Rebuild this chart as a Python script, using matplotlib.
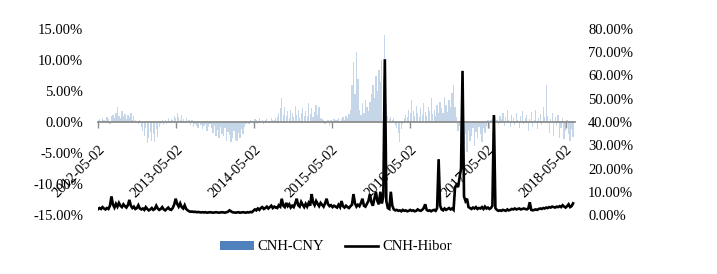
import matplotlib
matplotlib.use("Agg")
import matplotlib.pyplot as plt
import matplotlib.dates as mdates
from matplotlib.ticker import FuncFormatter, FixedLocator
from matplotlib.patches import Patch
from matplotlib.lines import Line2D
import pandas as pd

# ---- data (weekly readings, %) ----
start_date = "2012-05-02"
cnh_cny = [
    0.3, 0.5, -0.2, 0.6, 0.4, 0.2, 0.8, 0.5, -0.3, 0.9,
    1.2, 0.7, 1.5, 2.4, 1.0, 0.6, 1.8, 0.9, 1.3, 0.5,
    1.1, 0.8, 1.4, 0.4, 0.9, 0.3, 0.2, -0.3, 0.4, -0.8,
    -1.5, -2.2, -1.0, -3.4, -2.5, -1.6, -3.0, -2.0, -3.2, -1.2,
    -2.4, -0.8, -0.4, 0.3, -0.5, 0.4, -0.3, 0.6, 0.2, 0.5,
    0.3, 1.0, 0.6, 1.4, 0.8, 0.4, 1.1, 0.5, 0.2, 0.7,
    -0.2, 0.4, -0.5, 0.3, -0.8, -0.3, -0.6, -1.0, 0.2, -0.5,
    -1.2, -0.7, -0.3, -1.5, -0.8, -0.4, -1.0, -1.8, -0.6, -2.2,
    -1.3, -2.6, -0.8, -1.9, -2.3, -1.0, -3.0, -1.6, -2.1, -3.2,
    -2.5, -1.4, -2.9, -3.1, -1.8, -2.6, -1.2, -2.0, -0.8, -0.4,
    0.2, -0.3, 0.4, 0.1, -0.2, 0.5, 0.3, -0.4, 0.6, 0.2,
    0.4, -0.3, 0.3, 0.5, 0.2, -0.2, 0.7, 0.4, 0.3, 0.6,
    0.8, 1.5, 2.2, 3.8, 1.2, 2.5, 1.0, 1.8, 0.7, 2.0,
    1.4, 0.8, 2.6, 1.2, 1.9, 0.6, 1.5, 2.3, 1.0, 1.7,
    0.9, 3.0, 1.3, 2.2, 0.8, 1.6, 2.8, 1.1, 2.4, 0.7,
    0.5, 0.3, -0.4, 0.2, 0.4, -0.6, 0.3, 0.2, 0.5, 0.3,
    0.4, 0.6, 0.2, 0.5, 0.8, 0.4, 1.0, 0.6, 1.3, 2.0,
    6.0, 9.7, 4.5, 11.3, 7.0, 2.0, 1.2, 3.0, 1.5, 3.5,
    2.5, 1.8, 3.2, 4.5, 6.0, 3.8, 7.5, 5.0, 8.4, 6.5,
    10.0, 7.0, 14.0, 3.0, 1.0, 0.5, 0.8, 0.3, 0.6, -0.5,
    -1.0, -1.8, -3.2, -1.2, -0.4, 0.6, 1.2, 0.8, 2.0, 1.4,
    3.5, 1.8, 1.0, 2.6, 1.5, 0.8, 2.2, 1.2, 3.0, 1.6,
    1.0, 2.4, 1.8, 3.8, 1.3, 2.0, 0.9, 2.7, 1.5, 3.2,
    2.2, 1.4, 4.0, 2.8, 1.6, 3.5, 2.4, 4.6, 6.0, 2.5,
    0.8, -1.5, -0.6, -2.8, -1.2, -3.5, -2.0, -4.8, -1.5, -3.0,
    -2.2, -1.0, -3.8, -1.6, -2.6, -0.8, -2.0, -3.2, -1.0, -1.8,
    -0.6, 0.4, -1.2, 0.3, 0.6, -0.5, 0.8, 0.3, -0.4, 1.0,
    0.5, 1.5, -0.6, 0.8, 2.0, 0.4, -0.8, 1.2, 0.6, -0.5,
    1.4, 0.3, -1.0, 0.9, 1.8, -0.4, 0.6, 1.2, -1.5, 0.5,
    1.6, -0.8, 0.4, 2.0, -1.2, 0.7, 1.3, -0.5, 2.4, 0.8,
    6.0, 1.0, -1.8, 0.5, 1.5, -2.2, 0.8, -0.6, 1.2, -2.5,
    -1.0, 0.6, -2.8, -1.5, 0.4, -2.0, -3.0, -1.2, -2.4,
]
cnh_hibor = [
    2.5, 3.0, 2.6, 3.4, 2.8, 2.4, 3.0, 2.6, 4.0, 8.0,
    4.5, 3.2, 4.8, 3.6, 5.2, 4.0, 3.4, 4.6, 3.8, 3.2,
    4.2, 6.5, 4.0, 3.0, 3.6, 2.6, 3.0, 4.2, 2.8, 2.4,
    2.8, 2.2, 3.4, 2.6, 2.0, 2.4, 3.0, 2.2, 2.6, 4.0,
    2.8, 2.2, 2.6, 3.4, 2.4, 2.0, 2.6, 3.2, 2.4, 2.2,
    3.0, 4.5, 7.0, 4.8, 3.6, 5.0, 3.4, 2.8, 4.2, 2.6,
    2.0, 1.6, 1.4, 1.5, 1.3, 1.4, 1.2, 1.3, 1.2, 1.1,
    1.2, 1.1, 1.2, 1.0, 1.1, 1.2, 1.1, 1.0, 1.1, 1.2,
    1.1, 1.0, 1.1, 1.2, 1.1, 1.0, 1.2, 1.4, 2.0, 1.6,
    1.2, 1.1, 1.0, 1.1, 1.2, 1.0, 1.1, 1.2, 1.1, 1.0,
    1.2, 1.1, 1.3, 1.2, 1.8, 2.4, 2.0, 2.8, 2.2, 3.0,
    3.4, 2.6, 3.0, 3.6, 2.8, 3.4, 4.0, 3.0, 3.6, 3.2,
    3.0, 4.2, 3.6, 7.0, 4.0, 3.4, 5.2, 3.8, 4.6, 3.2,
    4.0, 3.4, 5.0, 7.0, 4.2, 3.6, 5.6, 4.4, 3.4, 4.8,
    3.6, 5.2, 4.0, 9.0, 5.4, 4.2, 6.0, 4.8, 3.8, 5.2,
    4.4, 3.6, 5.0, 7.0, 4.6, 3.8, 4.2, 3.4, 4.0, 3.6,
    3.2, 4.4, 3.4, 6.0, 3.8, 3.2, 4.0, 3.4, 3.0, 3.8,
    4.4, 9.0, 5.0, 3.6, 4.4, 3.8, 5.2, 7.0, 4.0, 3.6,
    4.8, 6.0, 9.0, 5.4, 4.0, 7.0, 10.0, 6.0, 4.6, 10.0,
    5.0, 8.0, 67.0, 6.0, 3.0, 2.6, 10.0, 4.0, 2.4, 2.0,
    2.2, 1.8, 2.0, 1.6, 2.2, 1.8, 2.0, 1.6, 1.8, 2.2,
    1.8, 2.0, 1.6, 1.8, 2.4, 2.0, 1.8, 2.2, 3.0, 4.6,
    2.2, 1.8, 2.0, 1.6, 2.0, 2.2, 1.8, 3.0, 24.0, 4.0,
    2.4, 2.0, 2.8, 2.2, 2.6, 3.0, 2.4, 2.8, 2.2, 12.0,
    13.0, 12.0, 16.0, 20.0, 62.0, 8.0, 6.0, 7.0, 3.4, 3.0,
    2.6, 3.2, 2.8, 3.4, 2.6, 3.0, 2.8, 3.4, 2.6, 3.6,
    2.8, 3.2, 2.6, 3.0, 4.0, 43.0, 3.0, 2.2, 1.8, 2.0,
    1.8, 2.2, 2.0, 1.8, 2.4, 2.0, 2.2, 2.6, 2.4, 2.8,
    2.4, 2.6, 2.8, 2.4, 2.6, 2.8, 2.6, 2.4, 2.8, 5.5,
    2.2, 2.0, 2.2, 2.4, 2.2, 2.6, 2.8, 2.6, 3.0, 2.8,
    3.2, 3.0, 3.4, 3.2, 3.6, 3.4, 3.2, 3.6, 3.4, 3.8,
    3.4, 4.2, 3.6, 3.2, 3.8, 4.6, 3.4, 3.8, 5.0,
]
tick_dates = ["2012-05-02", "2013-05-02", "2014-05-02", "2015-05-02",
              "2016-05-02", "2017-05-02", "2018-05-02"]
left_ticks = [-15, -10, -5, 0, 5, 10, 15]
right_ticks = [0, 10, 20, 30, 40, 50, 60, 70, 80]
series_names = ["CNH-CNY", "CNH-Hibor"]

dates = pd.date_range(start_date, periods=len(cnh_cny), freq="7D")

plt.rcParams['font.family'] = ['Liberation Serif', 'DejaVu Serif']
FS = 10.5

fig = plt.figure(figsize=(7.17, 2.74), dpi=100)
ax = fig.add_axes([98/717, 1-215/274, (575-98)/717, (215-29)/274])
ax2 = ax.twinx()

ax.bar(dates, cnh_cny, width=6, color='#4f81bd', alpha=0.32, linewidth=0)
ax2.plot(dates, cnh_hibor, color='black', lw=1.9, solid_joinstyle='miter')

ax.set_ylim(-15, 15)
ax2.set_ylim(0, 80)
ax.set_xlim(pd.Timestamp("2012-05-02"), pd.Timestamp("2018-06-15"))

ax.yaxis.set_major_locator(FixedLocator(left_ticks))
ax2.yaxis.set_major_locator(FixedLocator(right_ticks))
ax.yaxis.set_major_formatter(FuncFormatter(lambda v, p: f"{v:.2f}%"))
ax2.yaxis.set_major_formatter(FuncFormatter(lambda v, p: f"{v:.2f}%"))
ax.tick_params(axis='y', length=0, pad=10.8, labelsize=FS)
ax2.tick_params(axis='y', length=0, pad=9.4, labelsize=FS)

for s in ['top', 'left', 'right']:
    ax.spines[s].set_visible(False)
for s in ax2.spines.values():
    s.set_visible(False)
ax.spines['bottom'].set_position(('data', 0))
ax.spines['bottom'].set_color('#8c8c8c')
ax.spines['bottom'].set_linewidth(1.3)

ax.set_xticks([pd.Timestamp(d) for d in tick_dates])
ax.xaxis.set_major_formatter(mdates.DateFormatter('%Y-%m-%d'))
ax.tick_params(axis='x', length=4, width=1, color='#8c8c8c', pad=11, labelsize=FS)
for lab in ax.get_xticklabels():
    lab.set_rotation(45)
    lab.set_ha('right')
    lab.set_va('top')
    lab.set_rotation_mode('anchor')

handles = [Patch(facecolor='#4f81bd', edgecolor='none'),
           Line2D([0], [0], color='black', lw=1.9)]
fig.legend(handles, series_names, loc='center', bbox_to_anchor=(336/717, 1-247/274),
           ncol=2, frameon=False, fontsize=FS, handlelength=2.3, handleheight=0.55,
           handletextpad=0.25, columnspacing=1.4)

fig.savefig("out.png", dpi=100)
